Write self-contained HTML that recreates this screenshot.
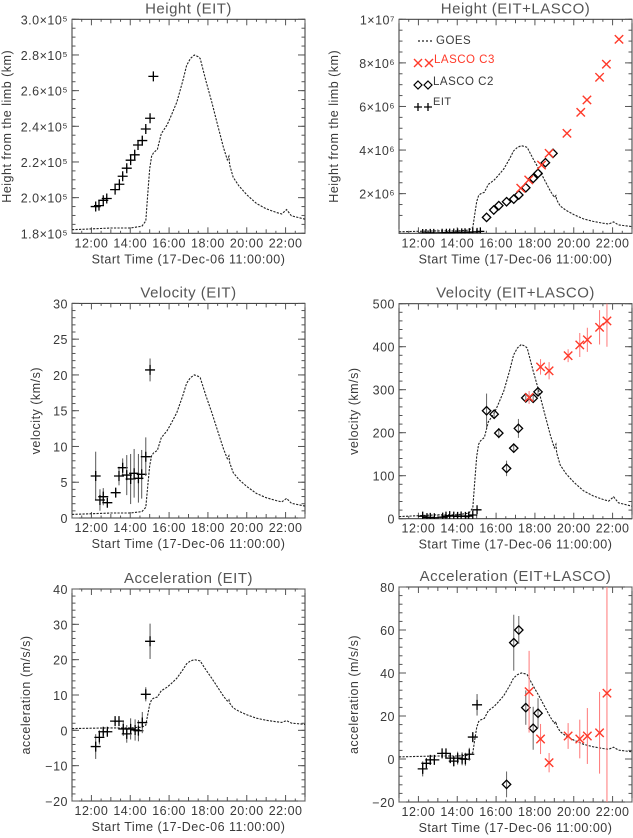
<!DOCTYPE html>
<html><head><meta charset="utf-8"><style>
html,body{margin:0;padding:0;background:#fff}
svg{display:block}
text{font-family:"Liberation Sans",sans-serif;fill:#3a3a3a;letter-spacing:0.5px}
</style></head><body>
<svg id="chart" width="633" height="838" viewBox="0 0 633 838" xmlns="http://www.w3.org/2000/svg"></svg>
<script>
// ---- data ----
const goesHours=[11,12,13,14,14.6,14.8,14.9,15.0,15.1,15.2,15.4,15.6,15.9,16.1,16.4,16.7,16.9,17.1,17.3,17.5,17.6,17.9,18.2,18.5,18.8,19.0,19.08,19.12,19.3,19.6,20.0,20.5,21.0,21.5,21.8,22.05,22.3,23.0];
const goesFlux=[0,0.005,0.01,0.01,0.02,0.05,0.2,0.35,0.42,0.44,0.46,0.55,0.6,0.65,0.73,0.85,0.94,0.98,1.0,0.99,0.98,0.85,0.73,0.6,0.47,0.4,0.42,0.37,0.3,0.25,0.2,0.15,0.12,0.1,0.09,0.115,0.08,0.06];

const eitHHours=[12.22,12.39,12.61,12.79,13.22,13.44,13.61,13.82,14.02,14.23,14.40,14.62,14.80,15.02,15.19];
const eitHeight=[1.95e5,1.955e5,1.985e5,1.995e5,2.045e5,2.075e5,2.12e5,2.165e5,2.21e5,2.24e5,2.295e5,2.32e5,2.385e5,2.445e5,2.68e5];
const eitHErr=[1000,1000,1000,1000,1000,1000,1500,1500,2500,3000,2000,2500,1500,2000,1000];

const c2HHours=[15.51,15.88,16.14,16.54,16.91,17.17,17.53,17.91,18.16,18.54,18.93];
const c2Height=[0.91e6,1.25e6,1.45e6,1.63e6,1.75e6,1.94e6,2.27e6,2.70e6,2.93e6,3.42e6,3.85e6];
const c3HHours=[17.27,17.68,18.34,18.73,19.65,20.36,20.68,21.33,21.68,22.33];
const c3Height=[2.25e6,2.63e6,3.31e6,3.85e6,4.77e6,5.73e6,6.30e6,7.34e6,7.94e6,9.08e6];

const eitVHours=[12.22,12.44,12.61,12.82,13.25,13.42,13.61,13.82,14.02,14.20,14.42,14.59,14.80,15.02];
const eitVel=[5.87,2.52,2.98,2.14,3.54,5.87,7.03,6.0,5.45,6.25,5.55,6.11,8.57,20.7];
const eitVErr=[3.4,1.5,1.2,0.5,0.6,1.3,1.3,2.8,3.5,3.4,3.4,3.4,2.7,1.6];
const c2VHours=[15.51,15.90,16.14,16.54,16.91,17.15,17.53,17.91,18.16];
const c2Vel=[251,243,199,117,164,210,281,280,295];
const c2VErr=[40,8,12,18,10,22,6,10,10];
const c3VHours=[17.70,18.29,18.73,19.71,20.31,20.70,21.33,21.71];
const c3Vel=[282,353,344,379,404,416,445,460];
const c3VErr=[15,18,20,15,28,28,40,60];

const eitAHours=[12.22,12.41,12.61,12.82,13.22,13.42,13.64,13.82,14.02,14.25,14.42,14.62,14.80,15.02];
const eitAcc=[-4.6,-2.0,-0.4,-0.4,2.6,2.6,0.4,-1.0,0.4,0.1,-0.1,2.2,10.2,25.2];
const eitAErr=[3.5,2,1,0.5,0.5,0.8,2,2.5,3,3,3,3,2,5];
const c2AHours=[16.54,16.91,17.17,17.53,17.91,18.16];
const c2Acc=[-11.8,54.1,60,23.9,14.3,21.3];
const c2AErr=[6,13,6.5,8,10,7];
const c3AHours=[17.70,18.29,18.73,19.71,20.31,20.70,21.33,21.71];
const c3Acc=[31.3,9.3,-1.7,10.7,9.3,10.7,12.2,30.6];
const c3AErr=[19,7,4.5,6,9,13,19,55];

const xTickHours=[12,14,16,18,20,22];
const xTickLabels=["12:00","14:00","16:00","18:00","20:00","22:00"];
const RED="#ff3a2a";
const svg=document.getElementById('chart');
const NS="http://www.w3.org/2000/svg";
function el(tag,attrs,parent){const e=document.createElementNS(NS,tag);for(const k in attrs)e.setAttribute(k,attrs[k]);(parent||svg).appendChild(e);return e;}

function panel(cfg){
  const g=el('g',{});
  
  
  const L=cfg.box[0],T=cfg.box[1],R=cfg.box[2],B=cfg.box[3];
  const xs=h=>L+(h-11)/(12)*(R-L);
  const ys=v=>B-(v-cfg.ymin)/(cfg.ymax-cfg.ymin)*(B-T);
  const cp='cp'+cfg.name;
  const cpe=el('clipPath',{id:cp},g);el('rect',{x:L,y:T,width:R-L,height:B-T},cpe);
  const t=el('text',{x:(L+R)/2,y:T-6,'text-anchor':'middle','font-size':'15',fill:'#555'},g);t.textContent=cfg.title;
  t.style.fill='#555';
  
  el('rect',{x:L,y:T,width:R-L,height:B-T,fill:'none',stroke:'#333','stroke-width':1},g);
  for(let h=11;h<=23;h+=0.5){const x=xs(h);const major=xTickHours.includes(h);const len=major?6:(h%1===0?4:2.5);
    el('line',{x1:x,y1:B,x2:x,y2:B-len,stroke:'#555'},g);el('line',{x1:x,y1:T,x2:x,y2:T+len,stroke:'#555'},g);}
  xTickHours.forEach((h,i)=>{const tx=el('text',{x:xs(h),y:B+14,'text-anchor':'middle','font-size':'12.5'},g);tx.textContent=xTickLabels[i];
    });
  const xt=el('text',{x:(L+R)/2,y:B+30,'text-anchor':'middle','font-size':'12.5'},g);xt.textContent="Start Time (17-Dec-06 11:00:00)";
  
  cfg.yticks.forEach((v,i)=>{const y=ys(v);
    el('line',{x1:L,y1:y,x2:L+7,y2:y,stroke:'#555'},g);el('line',{x1:R,y1:y,x2:R-7,y2:y,stroke:'#555'},g);
    const ty=el('text',{x:L-4,y:y+5,'text-anchor':'end','font-size':'12.5'},g);ty.textContent=cfg.ylabels[i];
    });
  cfg.yminor.forEach(v=>{const y=ys(v);if(y<T||y>B)return;
    el('line',{x1:L,y1:y,x2:L+3.5,y2:y,stroke:'#555'},g);el('line',{x1:R,y1:y,x2:R-3.5,y2:y,stroke:'#555'},g);});
  const yt=el('text',{x:0,y:0,'text-anchor':'middle','font-size':'12.5',transform:`translate(${cfg.ytx},${(T+B)/2}) rotate(-90)`},g);yt.textContent=cfg.ytitle;
  
  const pg=el('g',{'clip-path':`url(#${cp})`},g);
  const d=goesHours.map((h,i)=>(i?'L':'M')+xs(h).toFixed(1)+','+ys(cfg.gbase+goesFlux[i]*(cfg.gpeak-cfg.gbase)).toFixed(1)).join(' ');
  const gp=el('path',{d:d,fill:'none',stroke:'#222','stroke-width':1.1,'stroke-dasharray':'2.2,1.3'},pg);
  
  cfg.series.forEach(s=>{
    s.hours.forEach((h,i)=>{const x=xs(h),y=ys(s.vals[i]);
      if(s.err){const e=s.err[i];el('line',{x1:x,y1:ys(s.vals[i]-e),x2:x,y2:ys(s.vals[i]+e),stroke:s.ecol,'stroke-width':1},pg);}
      let m;
      if(s.type==='plus'){const r=s.r||5;m=el('path',{d:`M${x-r},${y}H${x+r}M${x},${y-r}V${y+r}`,stroke:'#000','stroke-width':1.3,fill:'none'},pg);}
      else if(s.type==='diamond'){const r=4.2;m=el('path',{d:`M${x},${y-r}L${x+r},${y}L${x},${y+r}L${x-r},${y}Z`,stroke:'#000','stroke-width':1.3,fill:'none'},pg);}
      else {const r=4.2;m=el('path',{d:`M${x-r},${y-r}L${x+r},${y+r}M${x-r},${y+r}L${x+r},${y-r}`,stroke:RED,'stroke-width':1.4,fill:'none'},pg);}
      
    });
  });
  return g;
}
const sup5="×10⁵",sup6="×10⁶";
const mkMinor=(a,b,s)=>{const r=[];for(let v=a;v<=b+1e-9;v+=s)r.push(v);return r;};
panel({name:'height-eit',title:'Height (EIT)',box:[72,19.3,305,233.3],ymin:1.8e5,ymax:3.0e5,
  yticks:[1.8e5,2.0e5,2.2e5,2.4e5,2.6e5,2.8e5,3.0e5],ylabels:["1.8"+sup5,"2.0"+sup5,"2.2"+sup5,"2.4"+sup5,"2.6"+sup5,"2.8"+sup5,"3.0"+sup5],
  yminor:mkMinor(1.8e5,3.0e5,0.05e5),ytitle:'Height from the limb (km)',ytx:11,gbase:1.82e5,gpeak:2.8e5,
  series:[{name:'eit',type:'plus',hours:eitHHours,vals:eitHeight,err:eitHErr,ecol:'#555',r:5}]});
panel({name:'velocity-eit',title:'Velocity (EIT)',box:[72,303.4,305,518],ymin:0,ymax:30,
  yticks:[0,5,10,15,20,25,30],ylabels:["0","5","10","15","20","25","30"],yminor:mkMinor(0,30,1),
  ytitle:'velocity (km/s)',ytx:40,gbase:0.5,gpeak:20,
  series:[{name:'eit',type:'plus',hours:eitVHours,vals:eitVel,err:eitVErr,ecol:'#555',r:5}]});
panel({name:'acceleration-eit',title:'Acceleration (EIT)',box:[72,589,305,801],ymin:-20,ymax:40,
  yticks:[-20,-10,0,10,20,30,40],ylabels:["−20","−10","0","10","20","30","40"],yminor:mkMinor(-20,40,2),
  ytitle:'acceleration (m/s/s)',ytx:30,gbase:0.5,gpeak:20,
  series:[{name:'eit',type:'plus',hours:eitAHours,vals:eitAcc,err:eitAErr,ecol:'#555',r:5}]});
panel({name:'height-eit-lasco',title:'Height (EIT+LASCO)',box:[399,19.3,632,233.3],ymin:1.8e5,ymax:1.0e7,
  yticks:[2e6,4e6,6e6,8e6,1e7],ylabels:["2"+sup6,"4"+sup6,"6"+sup6,"8"+sup6,"1×10⁷"],yminor:mkMinor(1e6,1e7,0.5e6),
  ytitle:'Height from the limb (km)',ytx:338,gbase:0.25e6,gpeak:4.2e6,
  series:[{name:'eit',type:'plus',hours:eitHHours,vals:eitHeight,r:4},
          {name:'lasco-c2',type:'diamond',hours:c2HHours,vals:c2Height},
          {name:'lasco-c3',type:'x',hours:c3HHours,vals:c3Height}]});
panel({name:'velocity-eit-lasco',title:'Velocity (EIT+LASCO)',box:[399,303.7,632,518.7],ymin:0,ymax:500,
  yticks:[0,100,200,300,400,500],ylabels:["0","100","200","300","400","500"],yminor:mkMinor(0,500,20),
  ytitle:'velocity (km/s)',ytx:358,gbase:5,gpeak:405,
  series:[{name:'eit',type:'plus',hours:eitVHours,vals:eitVel,err:eitVErr,ecol:'#555',r:4.5},
          {name:'lasco-c2',type:'diamond',hours:c2VHours,vals:c2Vel,err:c2VErr,ecol:'#666'},
          {name:'lasco-c3',type:'x',hours:c3VHours,vals:c3Vel,err:c3VErr,ecol:'#f77'}]});
panel({name:'acceleration-eit-lasco',title:'Acceleration (EIT+LASCO)',box:[399,587,632,802],ymin:-20,ymax:80,
  yticks:[-20,0,20,40,60,80],ylabels:["−20","0","20","40","60","80"],yminor:mkMinor(-20,80,4),
  ytitle:'acceleration (m/s/s)',ytx:358,gbase:1,gpeak:40,
  series:[{name:'eit',type:'plus',hours:eitAHours,vals:eitAcc,err:eitAErr,ecol:'#555',r:5},
          {name:'lasco-c2',type:'diamond',hours:c2AHours,vals:c2Acc,err:c2AErr,ecol:'#666'},
          {name:'lasco-c3',type:'x',hours:c3AHours,vals:c3Acc,err:c3AErr,ecol:'#f77'}]});
const lg=el('g',{});


el('path',{d:'M418,41H432',stroke:'#222','stroke-dasharray':'2,2','stroke-width':1.2},lg);
let tt=el('text',{x:436,y:44,'font-size':'11.5'},lg);tt.textContent='GOES';
[418,429].forEach(x=>el('path',{d:`M${x-4},59L${x+4},67M${x-4},67L${x+4},59`,stroke:RED,'stroke-width':1.4,fill:'none'},lg));
tt=el('text',{x:434,y:63,'font-size':'11.5',fill:RED},lg);tt.style.fill=RED;tt.textContent='LASCO C3';
[418,428].forEach(x=>el('path',{d:`M${x},81L${x+4},85L${x},89L${x-4},85Z`,stroke:'#000','stroke-width':1.2,fill:'none'},lg));
tt=el('text',{x:433,y:85,'font-size':'11.5'},lg);tt.textContent='LASCO C2';
[418,428].forEach(x=>el('path',{d:`M${x-4},107H${x+4}M${x},103V111`,stroke:'#000','stroke-width':1.3},lg));
tt=el('text',{x:433,y:105,'font-size':'11'},lg);tt.textContent='EIT';
</script>
</body></html>
